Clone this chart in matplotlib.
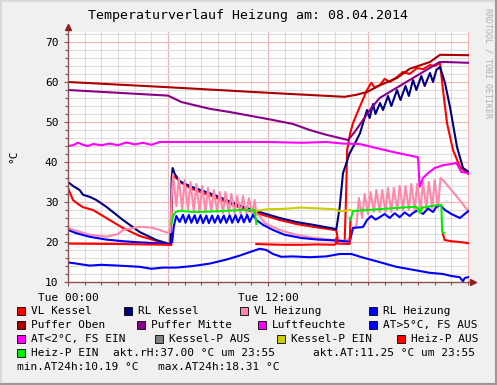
import numpy as np
import matplotlib.pyplot as plt
from matplotlib.patches import Rectangle
from matplotlib.lines import Line2D

W, H = 497, 385
nan = np.nan

# Zeit in Stunden ab Tue 00:00
t_vk = [0, 0.3, 0.6, 0.9, 1.5, 2.3, 3.3, 4.3, 5.3, 6.0, 6.15, 6.25, 6.3, 6.5, 6.8, 7.4, 8.5, 9.5,
        10.5, 11.5, 12.7, 13.7, 14.7, 16.0, 16.1, 16.2, 16.6, 16.68, 16.75, 16.92, 17.1, 17.5, 17.94,
        18.2, 18.4, 18.72, 19.0, 19.3, 19.74, 20.1, 20.5, 20.94, 21.3, 21.72, 22.0, 22.32, 22.5, 22.74,
        23.1, 23.52, 23.94, 24.05]
v_vk = [33.5, 30.5, 29.5, 28.7, 28.0, 26.0, 23.5, 21.5, 20.3, 19.4, 19.3, 33.0, 36.5, 36.0, 34.8, 33.3,
        31.7, 30.0, 28.3, 27.0, 25.5, 24.5, 23.8, 23.0, 22.9, 20.3, 20.2, 31.0, 43.0, 47.0, 49.75, 53.75,
        58.0, 59.8, 58.6, 59.25, 60.8, 60.0, 61.25, 62.5, 62.0, 63.5, 63.2, 64.25, 64.0, 64.75, 58.0,
        49.75, 43.0, 38.75, 37.25, 37.0]

t_rk = [0, 0.3, 0.7, 0.9, 1.3, 1.7, 2.3, 3.3, 4.3, 5.3, 6.0, 6.15, 6.22, 6.28, 6.4, 6.7, 7.4, 8.5,
        9.5, 10.5, 11.5, 12.7, 13.7, 14.7, 16.0, 16.1, 16.3, 16.5, 16.9, 17.2, 17.52, 17.94, 18.1, 18.3,
        18.45, 18.72, 18.9, 19.2, 19.4, 19.74, 19.95, 20.25, 20.45, 20.7, 20.9, 21.2, 21.4, 21.72, 21.9,
        22.1, 22.32, 22.62, 22.92, 23.34, 23.7, 24.05]
v_rk = [35.0, 34.0, 33.0, 31.8, 31.3, 30.5, 28.8, 25.5, 22.5, 20.5, 19.6, 19.5, 36.0, 38.5, 37.0,
        35.2, 33.8, 32.2, 30.5, 28.8, 27.5, 26.0, 25.0, 24.3, 23.3, 23.2, 28.7, 37.2, 42.2, 44.5, 47.2,
        53.0, 51.0, 54.5, 52.0, 54.75, 53.0, 56.5, 54.0, 58.0, 55.5, 59.0, 56.5, 60.5, 58.0, 61.5, 59.0,
        62.25, 60.0, 63.0, 63.75, 59.75, 53.75, 43.75, 38.5, 37.5]

t_vh = [0, 0.5, 1.3, 2.3, 3.0, 3.3, 4.3, 5.0, 5.5, 6.0, 6.15,
        6.2, 6.3, 6.5, 6.65, 6.85, 7.0, 7.2, 7.35, 7.55, 7.7, 7.9, 8.05, 8.25, 8.4, 8.6, 8.75, 8.95, 9.1,
        9.3, 9.45, 9.65, 9.8, 10.0, 10.15, 10.35, 10.5, 10.7, 10.85, 11.05, 11.2, 11.3,
        11.5, 11.8, 12.0, 12.7, 13.5, 14.5, 15.5, 16.2, 16.7,
        16.9, 17.1, 17.3, 17.45, 17.65, 17.8, 18.0, 18.15, 18.35, 18.5, 18.7, 18.85, 19.05, 19.2, 19.4,
        19.55, 19.75, 19.9, 20.1, 20.25, 20.45, 20.6, 20.8, 20.95, 21.15, 21.3, 21.5, 21.65, 21.85, 22.0,
        22.2, 22.35, 22.5, 23.0, 23.5, 24.05]
v_vh = [23.5, 22.8, 21.8, 21.3, 22.0, 23.0, 23.8, 23.6, 23.0, 22.3, 22.5,
        30, 37, 29, 36, 28, 35.5, 28, 35, 27.5, 34.5, 27.5, 34, 27.5, 33.5, 27.5, 33, 27.5, 32.5,
        27.2, 32.5, 27.2, 32, 27, 31.5, 27, 31.5, 27, 31, 27, 30.5, 27,
        26.5, 24.8, 24.3, 23.0, 22.0, 21.2, 20.7, 20.4, 20.3,
        21, 23.5, 24, 31, 26, 32, 27, 32.5, 27.5, 33, 27.5, 33, 27.5, 33.5, 27.5,
        33.5, 28, 34, 28, 34, 28, 34.5, 28, 34.5, 28, 35, 28.5, 35, 28.5, 35.5,
        28.5, 36, 35.5, 33, 30.5, 27.5]

t_rh = [0, 0.5, 1.3, 2.3, 3.3, 4.3, 5.3, 6.15, 6.25, 6.35, 6.5,
        6.7, 6.9, 7.05, 7.25, 7.4, 7.6, 7.75, 7.95, 8.1, 8.3, 8.45, 8.65, 8.8, 9.0, 9.15, 9.35, 9.5,
        9.7, 9.85, 10.05, 10.2, 10.4, 10.55, 10.75, 10.9, 11.1, 11.3,
        11.7, 12.3, 13.0, 14.0, 15.0, 16.0, 16.9, 17.1, 17.7, 17.94, 18.2, 18.45, 18.72, 19.0, 19.3,
        19.6, 19.9, 20.2, 20.5, 20.7, 21.0, 21.3, 21.6, 21.9, 22.1, 22.32, 22.62, 23.0, 23.52, 23.8, 24.05]
v_rh = [23.0, 22.2, 21.3, 20.6, 20.2, 19.9, 19.7, 19.5, 20.0, 24.0, 26.5,
        25.0, 26.8, 24.8, 26.8, 24.8, 26.7, 24.7, 26.7, 24.7, 26.6, 24.7, 26.6, 24.8, 26.6, 24.8, 26.6, 24.8,
        26.7, 24.8, 26.7, 24.9, 26.7, 24.9, 26.8, 25.0, 26.8, 25.5,
        24.3, 23.0, 21.8, 21.0, 20.6, 20.4, 20.1, 23.5, 23.75, 25.5, 26.5, 25.6, 26.25, 27.0, 26.0,
        27.2, 26.2, 27.4, 26.5, 27.25, 28.0, 27.0, 28.4, 27.5, 28.8, 29.25, 28.0, 27.0, 26.0, 27.0, 27.8]

t_po = [0, 6, 12, 16.6, 17.3, 17.94, 18.72, 19.74, 20.5, 21.72, 22.32, 24.05]
v_po = [60.0, 58.7, 57.3, 56.3, 56.8, 57.5, 59.2, 61.0, 63.3, 65.0, 66.8, 66.7]

t_pm = [0, 6.0, 6.4, 6.8, 7.5, 8.5, 9.7, 11.0, 12.3, 13.5, 14.5, 15.5, 16.3, 16.8, 17.2, 17.7,
        18.2, 18.7, 19.7, 20.7, 21.7, 22.3, 22.6, 24.05]
v_pm = [58.0, 56.6, 55.8, 55.0, 54.3, 53.3, 52.5, 51.5, 50.5, 49.5, 48.0, 46.8, 46.0, 45.5, 47.5,
        50.5, 53.5, 56.0, 58.5, 61.0, 63.5, 65.0, 65.0, 64.8]

t_lf = [0, 0.3, 0.6, 0.9, 1.2, 1.5, 2.0, 2.5, 3.0, 3.5, 4.0, 4.5, 5.0, 5.5, 6.5, 8, 10, 12, 14,
        15.5, 16.5, 17.5, 18.5, 19.5, 20.3, 21.0, 21.1, 21.3, 21.6, 22.0, 22.5, 23.0, 23.3, 23.6, 24.05]
v_lf = [44.0, 44.2, 44.8, 44.3, 44.0, 44.5, 44.2, 44.6, 44.2, 44.9, 44.4, 44.8, 44.3, 45.0, 45.0,
        45.0, 45.0, 45.0, 44.8, 45.0, 44.6, 44.5, 43.5, 42.5, 41.8, 41.2, 33.8, 36.0, 37.2, 38.5, 39.2,
        39.5, 39.8, 37.5, 37.2]

t_at = [0, 0.5, 1.3, 2.0, 3.0, 4.3, 5.0, 5.7, 6.5, 7.5, 8.5, 9.5, 10.3, 11.0, 11.5, 11.9, 12.3,
        12.8, 13.5, 14.5, 15.5, 16.3, 17.0, 17.7, 18.5, 19.7, 20.5, 21.7, 22.5, 23.0, 23.5, 23.7, 23.8, 24.05]
v_at = [14.9, 14.6, 14.1, 14.3, 14.1, 13.8, 13.3, 13.6, 13.6, 14.0, 14.6, 15.6, 16.6, 17.6, 18.31,
        18.0, 17.0, 16.3, 16.4, 16.2, 16.4, 17.0, 17.0, 16.1, 15.2, 13.8, 13.2, 12.3, 12.0, 11.5, 11.2,
        10.19, 11.0, 11.25]

t_kpe = [11.3, 12, 13, 14, 15, 16, 16.3, 16.6, 16.9, 17.0, nan, 20.9, 21.1, 21.2, 21.3]
v_kpe = [27.8, 28.2, 28.3, 28.6, 28.4, 28.2, 27.7, 27.8, 28.0, 28.0, nan, 28.8, 27.3, 27.6, 28.8]

t_hpa = [0, 3, 6.1, 6.2, nan, 11.3, 12, 13, 14, 15, 16, 16.05, 16.1, 16.15, 16.9, 16.95, nan,
         22.5, 22.6, 23, 23.5, 24.05]
v_hpa = [19.6, 19.5, 19.3, 19.3, nan, 19.5, 19.4, 19.3, 19.3, 19.4, 19.3, 19.5, 21.0, 19.6, 19.5,
         26.0, nan, 22.0, 20.5, 20.2, 20.0, 19.7]

t_hpe = [6.2, 6.3, 6.45, 6.7, 7.5, 8.5, 9.5, 10.5, 11.2, 11.3, nan,
         16.95, 17.1, 18, 19, 20, 20.8, 21.0, 21.1, 21.2, 21.8, 22.4, 22.45, 22.55]
v_hpe = [24.5, 26.5, 27.5, 27.8, 27.5, 27.6, 27.8, 28.0, 28.0, 24.5, nan,
         25.5, 27.75, 28.0, 28.3, 28.6, 28.8, 28.5, 27.3, 28.5, 29.0, 29.3, 22.5, 22.3]

legend_labels = ['VL Kessel', 'RL Kessel', 'VL Heizung', 'RL Heizung',
                 'Puffer Oben', 'Puffer Mitte', 'Luftfeuchte', 'AT>5°C, FS AUS',
                 'AT<2°C, FS EIN', 'Kessel-P AUS', 'Kessel-P EIN', 'Heiz-P AUS', 'Heiz-P EIN']
legend_colors = ['#ff0000', '#000080', '#ff88aa', '#0000ff',
                 '#aa0000', '#880088', '#ff00ff', '#0000ff',
                 '#ff00ff', '#808080', '#cccc00', '#ff0000', '#00ee00']

fig = plt.figure(figsize=(W / 100, H / 100), dpi=100)
fig.patch.set_facecolor('#f0f0f0')
mono = 'DejaVu Sans Mono'

def px(x, y):
    return x / W, 1 - y / H

ax = fig.add_axes([68 / W, (H - 282) / H, 400.5 / W, 250 / H])
ax.set_facecolor('white')
ax.set_xlim(0, 24.03)
ax.set_ylim(10, 72.5)

# Gitter
for h in range(1, 25):
    ax.axvline(h, color='#f4b4b4' if h % 6 == 0 else '#dcdcdc', lw=0.8, zorder=0)
for v in range(12, 73, 2):
    ax.axhline(v, color='#f4b4b4' if v % 10 == 0 else '#dcdcdc', lw=0.8, zorder=0)

series = [(t_vk, v_vk, 0), (t_rk, v_rk, 1), (t_vh, v_vh, 2), (t_rh, v_rh, 3),
          (t_po, v_po, 4), (t_pm, v_pm, 5), (t_lf, v_lf, 6), (t_at, v_at, 7),
          (t_kpe, v_kpe, 10), (t_hpa, v_hpa, 11), (t_hpe, v_hpe, 12)]
for t, v, c in series:
    ax.plot(t, v, color=legend_colors[c], lw=1.5, zorder=2)

for s in ax.spines.values():
    s.set_visible(False)
ax.set_xticks([0, 12])
ax.set_xticklabels(['Tue 00:00', 'Tue 12:00'], fontfamily=mono, fontsize=8)
ax.set_xticks(range(0, 25), minor=True)
ax.set_yticks(range(10, 71, 10))
ax.set_yticklabels([str(v) for v in range(10, 71, 10)], fontfamily=mono, fontsize=8)
ax.set_yticks(range(10, 73, 2), minor=True)
ax.tick_params(which='both', color='#8a5050', width=0.8, direction='out')
ax.tick_params(which='major', length=3, pad=4)
ax.tick_params(which='minor', length=2)
ax.tick_params(axis='x', pad=5)

axis_col = '#8a5050'
fig.add_artist(Line2D([68 / W, 68 / W], [1 - 282 / H, 1 - 25 / H], color=axis_col, lw=1))
fig.add_artist(Line2D([68 / W, 474 / W], [1 - 282 / H, 1 - 282 / H], color=axis_col, lw=1))
fig.add_artist(Line2D([68 / W], [1 - 27 / H], marker='^', ms=4, color='#902020', lw=0))
fig.add_artist(Line2D([473 / W], [1 - 282 / H], marker='>', ms=4, color='#902020', lw=0))

fig.text(*px(248, 16), 'Temperaturverlauf Heizung am: 08.04.2014', fontfamily=mono,
         fontsize=9.5, ha='center', va='center')
fig.text(*px(13, 156), '°C', fontfamily=mono, fontsize=8, rotation=90, ha='center', va='center')
fig.text(*px(488, 8), 'RRDTOOL / TOBI OETIKER', fontfamily=mono, fontsize=6, color='#b0b0b0',
         rotation=270, ha='center', va='top')

# Legende
leg_pos = [(17, 311), (124, 311), (240, 311), (369, 311),
           (17, 325), (137, 325), (258, 325), (369, 325),
           (17, 339), (155, 339), (277, 339), (397, 339),
           (17, 353)]
for (x, y), lab, col in zip(leg_pos, legend_labels, legend_colors):
    fig.add_artist(Rectangle(px(x, y + 4), 8 / W, 8 / H, transform=fig.transFigure,
                             facecolor=col, edgecolor='black', lw=0.6))
    fig.text(*px(x + 14, y), lab, fontfamily=mono, fontsize=8, ha='left', va='center')

fig.text(*px(113, 353), 'akt.rH:37.00 °C um 23:55', fontfamily=mono, fontsize=8, va='center')
fig.text(*px(313, 353), 'akt.AT:11.25 °C um 23:55', fontfamily=mono, fontsize=8, va='center')
fig.text(*px(17, 367), 'min.AT24h:10.19 °C', fontfamily=mono, fontsize=8, va='center')
fig.text(*px(158, 367), 'max.AT24h:18.31 °C', fontfamily=mono, fontsize=8, va='center')

# Rahmen
fig.add_artist(Line2D([0, 0, 1], [0, 1, 1], transform=fig.transFigure, color='#d8d8d8', lw=2))
fig.add_artist(Line2D([0, 1, 1], [0, 0, 1], transform=fig.transFigure, color='#9a9a9a', lw=3))

fig.savefig('out.png', dpi=100, facecolor=fig.get_facecolor())
